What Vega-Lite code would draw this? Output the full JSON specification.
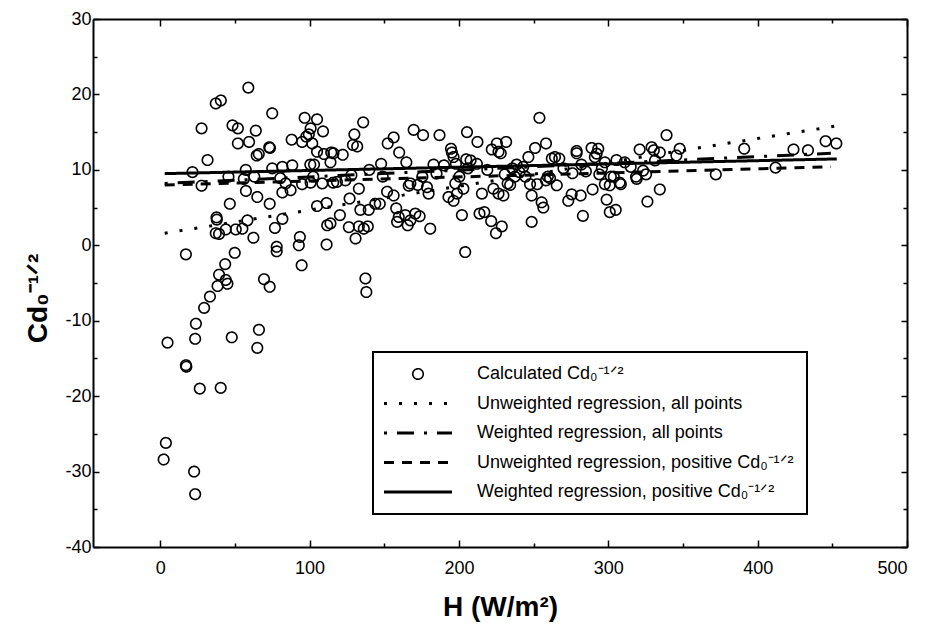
{
  "$schema": "https://vega.github.io/schema/vega-lite/v6.json",
  "width": 814,
  "height": 528,
  "autosize": {"type": "none"},
  "padding": {"left": 93, "top": 19, "right": 18, "bottom": 81},
  "background": "white",
  "config": {
    "view": {"stroke": null},
    "font": "Liberation Sans",
    "axis": {
      "domainColor": "black", "domainWidth": 2, "tickColor": "black", "tickWidth": 1.5,
      "labelColor": "black", "labelFont": "Liberation Sans", "labelFontSize": 18,
      "titleColor": "black", "titleFont": "Liberation Sans", "titleFontWeight": "bold", "titleFontSize": 28,
      "grid": false
    },
    "legend": {
      "orient": "none", "strokeColor": "black", "padding": 13, "symbolType": "stroke",
      "symbolSize": 400, "symbolOffset": 23, "symbolStrokeWidth": 3, "symbolStrokeColor": "black",
      "labelFont": "Liberation Sans", "labelFontSize": 18, "labelColor": "black",
      "labelOffset": 50, "rowPadding": 11.5, "labelLimit": 400
    }
  },
  "datasets": {
    "pts": [
      {"h":2.3,"c":-28.4},{"h":3.8,"c":-26.2},{"h":4.9,"c":-12.9},{"h":17.2,"c":-1.2},{"h":17.2,"c":-15.9},{"h":17.5,"c":-16.1},
      {"h":21.6,"c":9.7},{"h":22.7,"c":-30.0},{"h":23.4,"c":-33.0},{"h":23.9,"c":-10.4},{"h":23.4,"c":-12.4},{"h":26.5,"c":-19.0},
      {"h":27.7,"c":7.9},{"h":27.7,"c":15.5},{"h":29.4,"c":-8.3},{"h":31.7,"c":11.3},{"h":33.3,"c":-6.8},{"h":37.2,"c":1.6},
      {"h":37.2,"c":18.8},{"h":37.7,"c":3.7},{"h":37.9,"c":3.4},{"h":39.4,"c":-3.9},{"h":38.4,"c":-5.4},{"h":40.6,"c":19.2},
      {"h":40.5,"c":-18.9},{"h":39.4,"c":1.5},{"h":43.9,"c":-4.6},{"h":43.9,"c":2.1},{"h":43.5,"c":-2.5},{"h":45,"c":-5.1},
      {"h":45.7,"c":9.1},{"h":46.6,"c":5.5},{"h":47.9,"c":-12.2},{"h":48.4,"c":15.9},{"h":49.9,"c":-1.0},{"h":50.6,"c":2.1},
      {"h":52,"c":15.5},{"h":52,"c":13.5},{"h":55,"c":2.2},{"h":56,"c":8.8},{"h":57.4,"c":7.2},{"h":58.4,"c":3.3},
      {"h":57.3,"c":10.0},{"h":59,"c":20.9},{"h":59.5,"c":13.7},{"h":62.4,"c":1.0},{"h":63,"c":9.1},{"h":64,"c":15.2},
      {"h":64.6,"c":11.9},{"h":65,"c":-13.6},{"h":65,"c":6.4},{"h":66,"c":12.1},{"h":66.1,"c":-11.2},{"h":69.5,"c":-4.5},
      {"h":73.3,"c":5.5},{"h":73.3,"c":-5.5},{"h":73,"c":13.0},{"h":73.5,"c":12.9},{"h":75,"c":17.5},{"h":75,"c":10.2},
      {"h":76.8,"c":2.3},{"h":78,"c":-0.2},{"h":78,"c":-0.8},{"h":80.4,"c":8.9},{"h":81.8,"c":10.4},{"h":81.8,"c":7.0},
      {"h":81.8,"c":3.5},{"h":84,"c":8.2},{"h":87.3,"c":7.3},{"h":88.4,"c":10.6},{"h":88,"c":14.0},{"h":92.8,"c":0.0},
      {"h":93.5,"c":1.1},{"h":94.7,"c":-2.65},{"h":95,"c":13.7},{"h":95,"c":8.1},{"h":96.7,"c":16.9},{"h":97.8,"c":14.4},
      {"h":99.5,"c":14.7},{"h":100.7,"c":15.5},{"h":100.7,"c":8.3},{"h":101.8,"c":13.5},{"h":100.5,"c":10.7},{"h":102.5,"c":9.1},
      {"h":103,"c":10.7},{"h":105,"c":16.7},{"h":105,"c":12.4},{"h":105,"c":5.2},{"h":108.5,"c":8.2},{"h":109,"c":15.1},
      {"h":109.6,"c":12.1},{"h":111.4,"c":5.6},{"h":111.4,"c":0.1},{"h":111.8,"c":2.65},{"h":114,"c":2.9},{"h":114,"c":11.0},
      {"h":114.5,"c":12.3},{"h":115.8,"c":8.3},{"h":116,"c":12.2},{"h":118.3,"c":8.4},{"h":120.3,"c":4.0},{"h":122.2,"c":12.0},
      {"h":124,"c":8.6},{"h":126.8,"c":6.2},{"h":126.3,"c":2.4},{"h":128,"c":9.3},{"h":129,"c":13.3},{"h":130,"c":14.7},
      {"h":131.9,"c":13.1},{"h":130.8,"c":0.9},{"h":133,"c":7.5},{"h":133,"c":2.5},{"h":134,"c":4.7},{"h":135.9,"c":16.3},
      {"h":136.3,"c":2.2},{"h":137.4,"c":-4.4},{"h":138,"c":-6.2},{"h":139,"c":2.5},{"h":139.6,"c":4.7},{"h":140,"c":10.0},
      {"h":144,"c":5.5},{"h":147,"c":5.5},{"h":147.9,"c":10.8},{"h":149,"c":9.1},{"h":151.9,"c":7.1},{"h":152.3,"c":13.5},
      {"h":156.3,"c":14.3},{"h":156.3,"c":6.6},{"h":158,"c":4.9},{"h":159.7,"c":3.75},{"h":158.6,"c":3.1},{"h":160,"c":12.3},
      {"h":164.1,"c":4.0},{"h":164.8,"c":11.0},{"h":165.7,"c":2.65},{"h":166.4,"c":7.9},{"h":167.5,"c":3.3},{"h":167.5,"c":8.2},
      {"h":169.7,"c":15.3},{"h":170.8,"c":4.2},{"h":172.4,"c":8.0},{"h":173.7,"c":3.85},{"h":176,"c":14.6},{"h":175.5,"c":9.1},
      {"h":178.6,"c":7.7},{"h":179.7,"c":6.85},{"h":180.8,"c":2.2},{"h":183,"c":10.7},{"h":185,"c":9.5},{"h":187,"c":14.6},
      {"h":190,"c":10.6},{"h":194.7,"c":12.8},{"h":195.3,"c":12.3},{"h":196.4,"c":11.7},{"h":193,"c":6.4},{"h":198.7,"c":6.85},
      {"h":197.6,"c":8.2},{"h":196.4,"c":5.9},{"h":198,"c":10.8},{"h":200.3,"c":9.1},{"h":202,"c":4.0},{"h":203,"c":7.5},
      {"h":204.2,"c":-0.9},{"h":204.9,"c":11.4},{"h":205.4,"c":15.0},{"h":206,"c":10.2},{"h":207.8,"c":11.25},{"h":212,"c":10.8},
      {"h":212.4,"c":13.7},{"h":213.8,"c":4.2},{"h":215.4,"c":6.85},{"h":217,"c":4.4},{"h":219,"c":10.0},{"h":221.6,"c":3.2},
      {"h":222,"c":12.7},{"h":223.1,"c":7.5},{"h":225.4,"c":13.5},{"h":224.8,"c":1.6},{"h":226.5,"c":12.4},{"h":226.5,"c":6.85},
      {"h":228,"c":12.2},{"h":228.7,"c":2.5},{"h":229.8,"c":6.6},{"h":230.7,"c":9.4},{"h":231.6,"c":13.7},{"h":232.6,"c":8.2},
      {"h":234.3,"c":8.0},{"h":235.8,"c":10.2},{"h":237.4,"c":9.1},{"h":238.6,"c":10.7},{"h":240.5,"c":9.7},{"h":243,"c":10.4},
      {"h":244.5,"c":9.1},{"h":246.5,"c":11.7},{"h":247.6,"c":8.1},{"h":248.7,"c":3.1},{"h":248.7,"c":6.6},{"h":251,"c":12.9},
      {"h":252.4,"c":8.1},{"h":253.9,"c":16.9},{"h":255.4,"c":5.7},{"h":256.5,"c":5.0},{"h":258.3,"c":13.5},{"h":258.3,"c":8.6},
      {"h":259.5,"c":9.1},{"h":261,"c":8.9},{"h":262.2,"c":11.5},{"h":264.3,"c":11.7},{"h":265.5,"c":7.95},{"h":267.2,"c":11.5},
      {"h":270,"c":10.2},{"h":273.2,"c":5.9},{"h":275.5,"c":6.75},{"h":276,"c":9.55},{"h":278.8,"c":12.5},{"h":278.8,"c":12.2},
      {"h":281.5,"c":6.6},{"h":282,"c":10.7},{"h":283,"c":3.9},{"h":285,"c":9.8},{"h":288.8,"c":12.9},{"h":289.5,"c":7.4},
      {"h":291,"c":11.7},{"h":292.2,"c":12.15},{"h":293.3,"c":12.8},{"h":294,"c":9.4},{"h":295.7,"c":10.2},{"h":297.7,"c":11.0},
      {"h":297.7,"c":8.1},{"h":298.9,"c":6.05},{"h":301,"c":7.95},{"h":301,"c":4.4},{"h":301.7,"c":9.1},{"h":303.7,"c":9.1},
      {"h":305,"c":4.7},{"h":305.5,"c":11.3},{"h":307.6,"c":8.3},{"h":308.4,"c":8.1},{"h":311,"c":11.0},{"h":315,"c":10.4},
      {"h":318.6,"c":9.1},{"h":319,"c":8.8},{"h":321,"c":12.7},{"h":323.3,"c":9.9},{"h":325.3,"c":9.4},{"h":326.2,"c":5.8},
      {"h":329,"c":13.0},{"h":330.5,"c":12.6},{"h":331.3,"c":11.25},{"h":334.5,"c":12.3},{"h":334.5,"c":7.4},{"h":339,"c":14.6},
      {"h":345.6,"c":11.9},{"h":347.8,"c":12.8},{"h":372,"c":9.4},{"h":391,"c":12.8},{"h":412,"c":10.3},{"h":424,"c":12.7},
      {"h":433.7,"c":12.6},{"h":445.5,"c":13.8},{"h":452.7,"c":13.5}
    ],
    "lines": [
      {"s":"Unweighted regression, all points","h":3,"c":1.6},
      {"s":"Unweighted regression, all points","h":452,"c":15.8},
      {"s":"Weighted regression, all points","h":3,"c":8.2},
      {"s":"Weighted regression, all points","h":449,"c":12.2},
      {"s":"Unweighted regression, positive Cd₀⁻¹ᐟ²","h":3,"c":8.0},
      {"s":"Unweighted regression, positive Cd₀⁻¹ᐟ²","h":449,"c":10.4},
      {"s":"Weighted regression, positive Cd₀⁻¹ᐟ²","h":3,"c":9.5},
      {"s":"Weighted regression, positive Cd₀⁻¹ᐟ²","h":453,"c":11.45}
    ]
  },
  "layer": [
    {
      "data": {"name": "pts"},
      "mark": {"type": "point", "shape": "circle", "filled": false, "size": 110, "strokeWidth": 1.6, "color": "black", "opacity": 1},
      "encoding": {
        "x": {"field": "h", "type": "quantitative",
          "scale": {"domain": [-45, 500], "nice": false, "zero": false},
          "axis": {"orient": "bottom", "title": "H (W/m²)", "titlePadding": 16,
            "values": [0,50,100,150,200,250,300,350,400,450,500],
            "labelExpr": "datum.value % 100 === 0 ? '' + datum.value : ''",
            "tickSize": {"condition": {"test": "datum.value % 100 === 0", "value": -7}, "value": -4},
            "labelPadding": 19}},
        "y": {"field": "c", "type": "quantitative",
          "scale": {"domain": [-40, 30], "nice": false, "zero": false},
          "axis": {"orient": "left", "title": "Cd₀⁻¹ᐟ²", "titlePadding": 12, "titleY": 279,
            "values": [-40,-35,-30,-25,-20,-15,-10,-5,0,5,10,15,20,25,30],
            "labelExpr": "datum.value % 10 === 0 ? '' + datum.value : ''",
            "tickSize": {"condition": {"test": "datum.value % 10 === 0", "value": -6}, "value": -4},
            "labelPadding": 8}},
        "strokeDash": {"datum": "Calculated Cd₀⁻¹ᐟ²", "type": "nominal", "title": null,
          "scale": {
            "domain": ["Calculated Cd₀⁻¹ᐟ²", "Unweighted regression, all points", "Weighted regression, all points", "Unweighted regression, positive Cd₀⁻¹ᐟ²", "Weighted regression, positive Cd₀⁻¹ᐟ²"],
            "range": [[1, 0], [3, 12], [3, 10, 17, 10], [10, 8], [1, 0]]},
          "legend": {
            "title": null, "legendX": 280, "legendY": 333,
            "encode": {
              "symbols": {"update": {
                "shape": {"signal": "datum.index === 0 ? 'circle' : 'stroke'"},
                "size": {"signal": "datum.index === 0 ? 110 : 4624"},
                "strokeWidth": {"signal": "datum.index === 0 ? 1.6 : 3"}
              }},
              "legend": {"update": {"strokeWidth": {"value": 2}}}
            }
          }
        }
      }
    },
    {
      "data": {"name": "lines"},
      "mark": {"type": "line", "strokeWidth": 3, "color": "black", "strokeCap": "butt"},
      "encoding": {
        "x": {"field": "h", "type": "quantitative",
          "axis": {"orient": "top", "title": null, "labels": false,
            "values": [0,50,100,150,200,250,300,350,400,450,500],
            "tickSize": {"condition": {"test": "datum.value % 100 === 0", "value": -7}, "value": -4}}},
        "y": {"field": "c", "type": "quantitative",
          "axis": {"orient": "right", "title": null, "labels": false,
            "values": [-40,-35,-30,-25,-20,-15,-10,-5,0,5,10,15,20,25,30],
            "tickSize": {"condition": {"test": "datum.value % 10 === 0", "value": -6}, "value": -4}}},
        "strokeDash": {"field": "s", "type": "nominal", "title": null,
          "legend": {
            "title": null, "legendX": 280, "legendY": 333,
            "encode": {
              "symbols": {"update": {
                "shape": {"signal": "datum.index === 0 ? 'circle' : 'stroke'"},
                "size": {"signal": "datum.index === 0 ? 110 : 4624"},
                "strokeWidth": {"signal": "datum.index === 0 ? 1.6 : 3"}
              }},
              "legend": {"update": {"strokeWidth": {"value": 2}}}
            }
          }
        }
      }
    }
  ],
  "resolve": {"axis": {"x": "independent", "y": "independent"}}
}
